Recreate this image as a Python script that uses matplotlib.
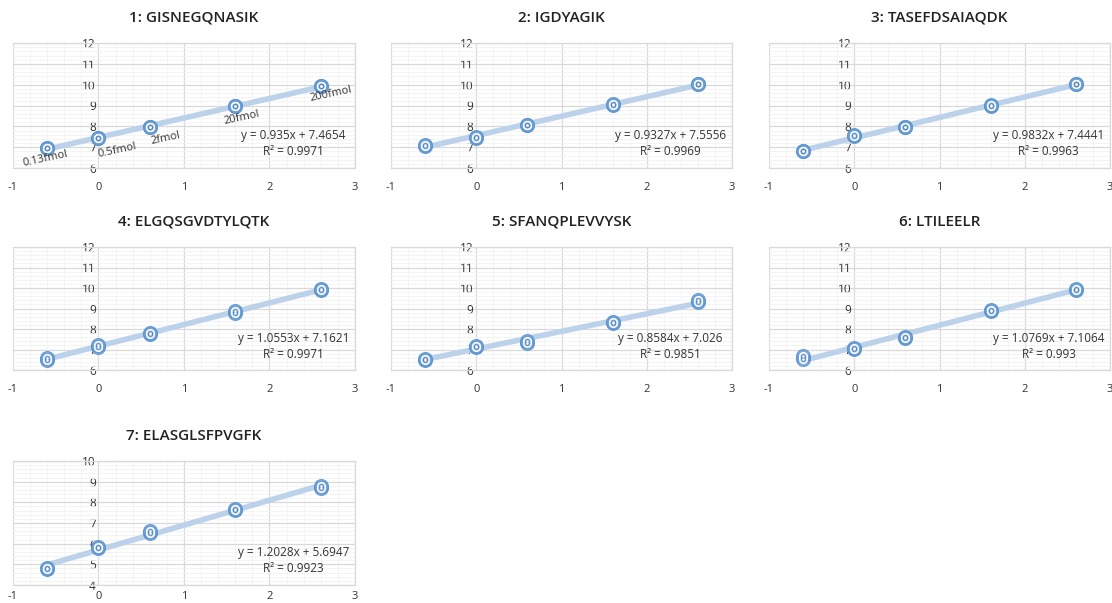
import matplotlib
matplotlib.use("Agg")
import matplotlib.pyplot as plt
from matplotlib.ticker import MultipleLocator

plt.rcParams['font.family'] = ['Open Sans', 'DejaVu Sans']
plt.rcParams['axes.unicode_minus'] = False

W, H = 1112, 603

# log concentration (x) for each dilution point
x_vals = [-0.6, 0.0, 0.6, 1.6, 2.6]
conc_labels = ["0.13fmol", "0.5fmol", "2fmol", "20fmol", "200fmol"]

titles = ["1: GISNEGQNASIK", "2: IGDYAGIK", "3: TASEFDSAIAQDK",
          "4: ELGQSGVDTYLQTK", "5: SFANQPLEVVYSK", "6: LTILEELR",
          "7: ELASGLSFPVGFK"]

# replicate measurements (two replicates per point)
rep1 = [
    [6.95, 7.42, 7.96, 8.96, 9.92],
    [7.06, 7.44, 8.05, 9.02, 10.02],
    [6.80, 7.53, 7.96, 9.00, 10.02],
    [6.51, 7.10, 7.76, 8.80, 9.88],
    [6.48, 7.12, 7.33, 8.28, 9.33],
    [6.55, 7.04, 7.58, 8.88, 9.88],
    [4.78, 5.78, 6.52, 7.62, 8.70],
]
rep2 = [
    [6.97, 7.45, 7.98, 8.99, 9.95],
    [7.10, 7.47, 8.07, 9.05, 10.05],
    [6.82, 7.57, 7.99, 9.03, 10.04],
    [6.60, 7.22, 7.80, 8.90, 9.97],
    [6.53, 7.18, 7.40, 8.32, 9.40],
    [6.68, 7.08, 7.63, 8.93, 9.93],
    [4.82, 5.82, 6.60, 7.68, 8.78],
]

slopes = [0.935, 0.9327, 0.9832, 1.0553, 0.8584, 1.0769, 1.2028]
intercepts = [7.4654, 7.5556, 7.4441, 7.1621, 7.026, 7.1064, 5.6947]
slope_txt = ["0.935", "0.9327", "0.9832", "1.0553", "0.8584", "1.0769", "1.2028"]
icpt_txt = ["7.4654", "7.5556", "7.4441", "7.1621", "7.026", "7.1064", "5.6947"]
r2_txt = ["0.9971", "0.9969", "0.9963", "0.9971", "0.9851", "0.993", "0.9923"]

y_ranges = [(6, 12)] * 6 + [(4, 10)]

# pixel boxes (left, top, right, bottom)
cols = [(13, 355), (391, 732), (769, 1110)]
rows = [(43, 168), (247, 370), (461, 585)]
title_y = [18, 222, 436]

fig = plt.figure(figsize=(W / 100, H / 100), dpi=100)

for i in range(7):
    r, c = divmod(i, 3)
    l, rr = cols[c]
    t, b = rows[r]
    ax = fig.add_axes([l / W, 1 - b / H, (rr - l) / W, (b - t) / H])
    ax.set_xlim(-1, 3)
    ax.set_ylim(*y_ranges[i])
    ax.xaxis.set_major_locator(MultipleLocator(1))
    ax.xaxis.set_minor_locator(MultipleLocator(0.2))
    ax.yaxis.set_major_locator(MultipleLocator(1))
    ax.yaxis.set_minor_locator(MultipleLocator(0.2))
    ax.grid(True, which='major', color='#D9D9D9', lw=0.9, zorder=0)
    ax.grid(True, which='minor', color='#F2F2F2', lw=0.6, zorder=0)
    ax.set_axisbelow(True)
    for s in ['top', 'right', 'bottom']:
        ax.spines[s].set_color('#D9D9D9')
        ax.spines[s].set_linewidth(0.9)
    ax.spines['left'].set_position(('data', 0))
    ax.spines['left'].set_color('none')
    ax.tick_params(axis='both', which='both', length=0, colors='#333333')
    ax.tick_params(axis='x', labelsize=8, pad=(4 if r == 2 else 10))
    ax.tick_params(axis='y', labelsize=8.5, pad=2)

    # trendline
    xs = [x_vals[0], x_vals[-1]]
    ax.plot(xs, [slopes[i] * xx + intercepts[i] for xx in xs],
            color='#BCD2EA', lw=4, solid_capstyle='round', zorder=2)

    # markers (replicates overlapping)
    for ys in (rep1[i], rep2[i]):
        ax.plot(x_vals, ys, 'o', ms=10, mfc='#6A9FD6', mec='#5B93CF',
                mew=0.8, ls='none', zorder=3, alpha=0.85)
    for ys in (rep1[i], rep2[i]):
        ax.plot(x_vals, ys, 'o', ms=6.6, mfc='white', mec='none',
                ls='none', zorder=4)
    for ys in (rep1[i], rep2[i]):
        ax.plot(x_vals, ys, 'o', ms=4.2, mfc='#4F86C4', mec='none',
                ls='none', zorder=5, alpha=0.8)
        ax.plot(x_vals, ys, 'o', ms=1.8, mfc='white', mec='none',
                ls='none', zorder=6)

    y0 = y_ranges[i][0]
    ax.text(2.28, y0 + 1.55, f"y = {slope_txt[i]}x + {icpt_txt[i]}",
            ha='center', va='center', fontsize=8.5, color='#333333', zorder=7)
    ax.text(2.28, y0 + 0.78, f"R² = {r2_txt[i]}",
            ha='center', va='center', fontsize=8.5, color='#333333', zorder=7)

    fig.text(((l + rr) / 2 + (10 if c == 0 else 0)) / W, 1 - title_y[r] / H,
             titles[i], ha='center', va='center', fontsize=11,
             fontweight='semibold', color='#222222')

    if i == 0:
        lab_pos = [(-0.62, 6.42), (0.22, 6.85), (0.78, 7.42), (1.68, 8.42),
                   (2.72, 9.55)]
        for (lx, ly), txt in zip(lab_pos, conc_labels):
            ax.text(lx, ly, txt, ha='center', va='center', fontsize=8,
                    rotation=12, color='#333333', zorder=7)

fig.savefig("out.png", dpi=100, facecolor='white')
